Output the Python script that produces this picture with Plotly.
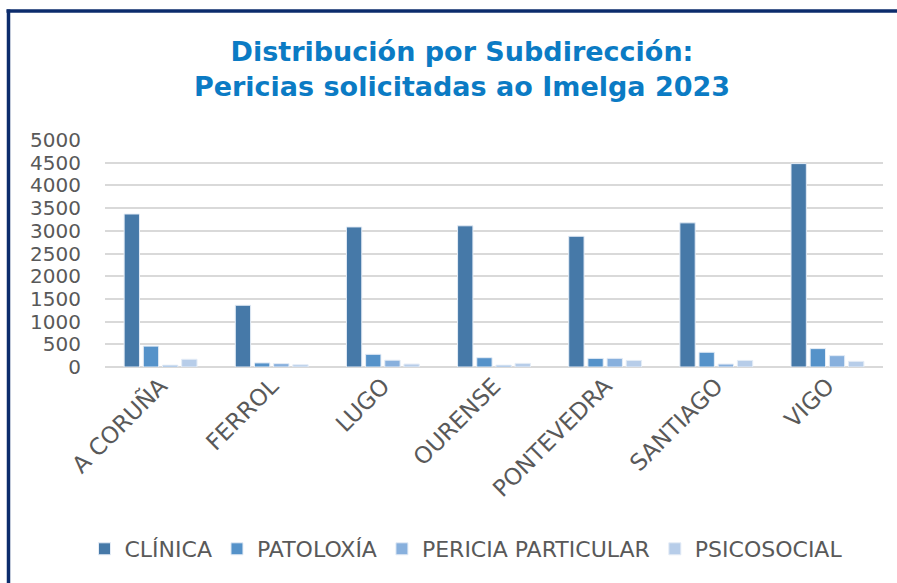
import plotly.graph_objects as go

categories = ["A CORUÑA", "FERROL", "LUGO", "OURENSE", "PONTEVEDRA", "SANTIAGO", "VIGO"]
clinica = [3370, 1360, 3085, 3110, 2880, 3175, 4480]
patoloxia = [460, 90, 280, 205, 190, 325, 405]
pericia = [40, 75, 150, 40, 190, 65, 250]
psicosocial = [170, 50, 65, 80, 145, 145, 125]
series_names = ["CLÍNICA", "PATOLOXÍA", "PERICIA PARTICULAR", "PSICOSOCIAL"]
colors = ["#4679A8", "#5592C9", "#88B0DD", "#B7CDE9"]
y_ticks = [0, 500, 1000, 1500, 2000, 2500, 3000, 3500, 4000, 4500, 5000]

fig = go.Figure()
for name, vals, col in zip(series_names, [clinica, patoloxia, pericia, psicosocial], colors):
    fig.add_trace(go.Bar(x=categories, y=vals, name=name,
                         marker=dict(color=col, line=dict(color="#E4ECF6", width=1))))

W, H = 897, 583
L, R, T, B = 105, 14, 140, 216
pw, ph = W - L - R, H - T - B

def px_x(px):
    return (px - L) / pw

def px_y(py):
    return (H - B - py) / ph

fig.update_layout(
    width=W, height=H,
    margin=dict(l=L, r=R, t=T, b=B, pad=0, autoexpand=False),
    paper_bgcolor="white", plot_bgcolor="white",
    barmode="group", bargap=0.31, bargroupgap=0.2,
    title=dict(text="<b>Distribución por Subdirección:<br>Pericias solicitadas ao Imelga 2023</b>",
               x=462 / W, xanchor="center", y=1 - 61 / H, yanchor="middle",
               font=dict(family="DejaVu Sans", size=27, color="#0B7BC4")),
    font=dict(family="DejaVu Sans", color="#595959"),
    xaxis=dict(tickangle=-45, tickfont=dict(size=23, color="#595959"),
               showgrid=False, showline=False, ticks=""),
    yaxis=dict(range=[0, 5000], tickvals=y_ticks, tickfont=dict(size=20, color="#595959"),
               showgrid=True, gridcolor="#D9D9D9", gridwidth=2,
               zeroline=True, zerolinecolor="#D9D9D9", zerolinewidth=2,
               ticklabelstandoff=23, ticks=""),
    legend=dict(orientation="h", x=px_x(466), xanchor="center", y=px_y(549), yanchor="middle",
                font=dict(size=22, color="#595959"), itemwidth=30),
    showlegend=True,
)

fig.add_shape(type="line", xref="paper", yref="paper",
              x0=px_x(6.5), x1=px_x(900), y0=px_y(11), y1=px_y(11),
              line=dict(color="#0C2C6C", width=3.5))
fig.add_shape(type="line", xref="paper", yref="paper",
              x0=px_x(8.5), x1=px_x(8.5), y0=px_y(9.5), y1=px_y(590),
              line=dict(color="#0C2C6C", width=3.5))

fig.write_html("out.html", config={"displayModeBar": False},
               post_script="document.body.style.margin='0px';")
